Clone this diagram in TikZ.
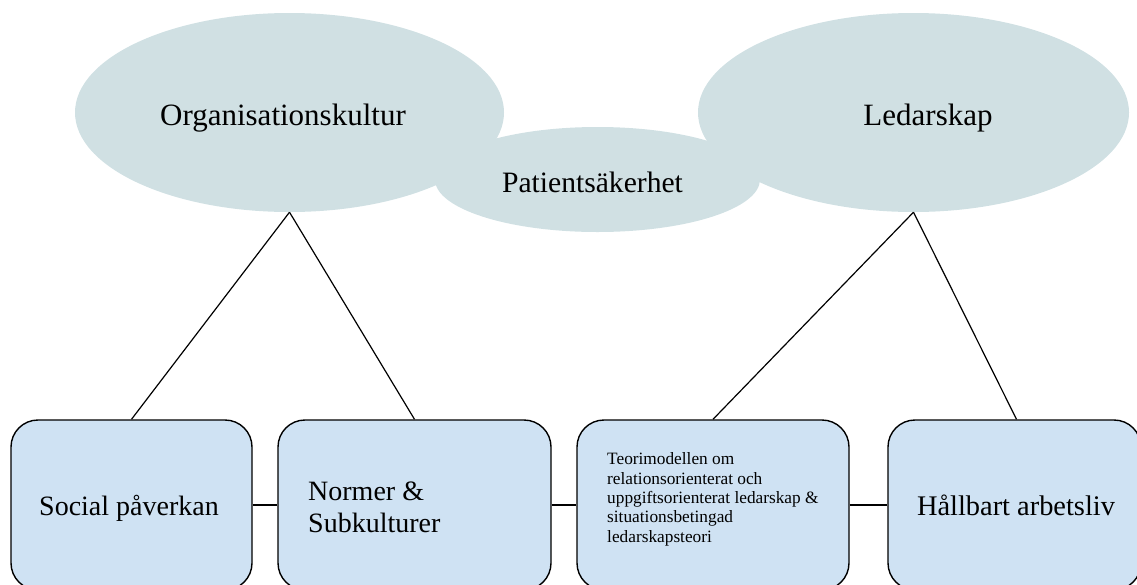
\documentclass[tikz,border=0pt]{standalone}
\usepackage{fontspec}
\setmainfont{Liberation Serif}
\usetikzlibrary{shapes.geometric}
\definecolor{ellfill}{RGB}{208,224,227}
\definecolor{boxfill}{RGB}{207,226,243}
\tikzset{
  bubble/.style={ellipse, fill=ellfill, inner sep=0pt},
  card/.style={draw=black, line width=1.4pt, rounded corners=27pt, fill=boxfill, inner sep=0pt, minimum height=170pt},
  link/.style={draw=black, line width=1.2pt},
  bigtxt/.style={font=\fontsize{31}{36}\selectfont, inner sep=0pt},
  midtxt/.style={font=\fontsize{28}{32}\selectfont, inner sep=0pt},
  smalltxt/.style={font=\fontsize{17.3}{19.3}\selectfont, inner sep=0pt, align=left},
}
\begin{document}
\begin{tikzpicture}[x=1pt,y=-1pt]
\useasboundingbox (0,0) rectangle (1137,584);
\begin{scope}
\clip (0,0) rectangle (1137,584);
% ellipses
\node[bubble, minimum width=325pt, minimum height=105pt] (pat) at (597.5,179.5) {};
\node[bubble, minimum width=429pt, minimum height=199pt] (org) at (289.5,112.5) {};
\node[bubble, minimum width=431pt, minimum height=199pt] (led) at (913.5,112.5) {};
% boxes
\node[card, minimum width=241pt] (b1) at (131.5,505) {};
\node[card, minimum width=273pt] (b2) at (414.5,505) {};
\node[card, minimum width=272pt] (b3) at (713,505) {};
\node[card, minimum width=253pt] (b4) at (1014.5,505) {};
% texts
\node[bigtxt, anchor=base] (torg) at (283,125) {Organisationskultur};
\node[bigtxt, anchor=base] (tled) at (928,125) {Ledarskap};
\node[font=\fontsize{29.6}{34}\selectfont, inner sep=0pt, anchor=base] (tpat) at (592.5,192) {Patientsäkerhet};
\node[midtxt, anchor=base] (t1) at (129,515) {Social påverkan};
\node[midtxt, anchor=base west, align=left] (t2) at (308,532) {Normer \&\\Subkulturer};
\node[smalltxt, anchor=base west] (t3) at (607,542) {Teorimodellen om\\relationsorienterat och\\uppgiftsorienterat ledarskap \&\\situationsbetingad\\ledarskapsteori};
\node[font=\fontsize{28.4}{32}\selectfont, inner sep=0pt, anchor=base] (t4) at (1016,515) {Hållbart arbetsliv};
% connectors
\draw[link] (org.south) -- (b1.north);
\draw[link] (org.south) -- (b2.north);
\draw[link] (led.south) -- (b3.north);
\draw[link] (led.south) -- ([xshift=2pt]b4.north);
\draw[link] (b1.east) -- (b2.west);
\draw[link] (b2.east) -- (b3.west);
\draw[link] (b3.east) -- (b4.west);
\end{scope}
\end{tikzpicture}
\end{document}
